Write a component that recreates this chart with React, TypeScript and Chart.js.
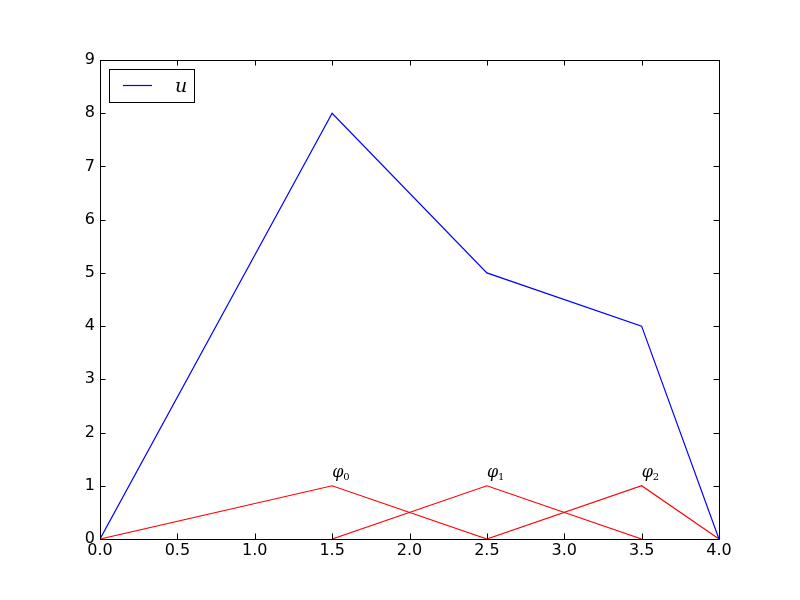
import { useEffect, useRef } from 'react';
import Chart from 'chart.js/auto';

// nodes of the mesh and the values of u at them
const nodes = [0, 1.5, 2.5, 3.5, 4];
const uValues = [0, 8, 5, 4, 0];
// each hat function rises from 0 to 1 and back over three neighbouring nodes
const hatValues = [0, 1, 0];
const hatNames = ['φ0', 'φ1', 'φ2'];
const xTicks = [0, 0.5, 1, 1.5, 2, 2.5, 3, 3.5, 4];
const yTicks = [0, 1, 2, 3, 4, 5, 6, 7, 8, 9];

const tickFont = { family: 'DejaVu Sans', size: 16 };

// frame, inward ticks, φ labels and the legend box, matplotlib style
const decorations = {
  id: 'decorations',
  afterDraw(chart: any) {
    const { ctx, chartArea: a, scales } = chart;
    const x = scales.x;
    const y = scales.y;
    ctx.save();
    ctx.strokeStyle = '#000';
    ctx.lineWidth = 1;
    ctx.strokeRect(Math.round(a.left) + 0.5, Math.round(a.top) + 0.5, Math.round(a.right - a.left), Math.round(a.bottom - a.top));
    ctx.beginPath();
    const tl = 5.5;
    for (const t of xTicks) {
      const px = Math.round(x.getPixelForValue(t)) + 0.5;
      ctx.moveTo(px, a.bottom);
      ctx.lineTo(px, a.bottom - tl);
      ctx.moveTo(px, a.top);
      ctx.lineTo(px, a.top + tl);
    }
    for (const t of yTicks) {
      const py = Math.round(y.getPixelForValue(t)) + 0.5;
      ctx.moveTo(a.left, py);
      ctx.lineTo(a.left + tl, py);
      ctx.moveTo(a.right, py);
      ctx.lineTo(a.right - tl, py);
    }
    ctx.stroke();

    // φ labels just above each peak
    ctx.fillStyle = '#000';
    ctx.textAlign = 'left';
    ctx.textBaseline = 'alphabetic';
    hatNames.forEach((name, i) => {
      const px = x.getPixelForValue(nodes[i + 1]);
      const py = y.getPixelForValue(hatValues[1] + 0.1);
      ctx.font = 'italic 16px "DejaVu Serif"';
      ctx.fillText(name[0], px, py - 3);
      const w = ctx.measureText(name[0]).width;
      ctx.font = '10px "DejaVu Serif"';
      ctx.fillText(name.slice(1), px + w, py);
    });

    // legend
    const lx = a.left + 9;
    const ly = a.top + 9;
    ctx.fillStyle = '#fff';
    ctx.fillRect(lx, ly, 85, 33);
    ctx.strokeStyle = '#000';
    ctx.strokeRect(lx + 0.5, ly + 0.5, 85, 33);
    ctx.strokeStyle = chart.data.datasets[0].borderColor;
    ctx.lineWidth = 1.2;
    ctx.beginPath();
    ctx.moveTo(lx + 14, ly + 16.5);
    ctx.lineTo(lx + 43, ly + 16.5);
    ctx.stroke();
    ctx.fillStyle = '#000';
    ctx.font = 'italic 19px "DejaVu Serif"';
    ctx.textBaseline = 'alphabetic';
    ctx.fillText(chart.data.datasets[0].label, lx + 66, ly + 23);
    ctx.restore();
  },
};

export default function App() {
  const canvas = useRef<HTMLCanvasElement>(null);

  useEffect(() => {
    let chart: Chart<any> | undefined;
    if (canvas.current) {
      const hats = hatNames.map((name, i) => ({
        label: name,
        data: hatValues.map((v, j) => ({ x: nodes[i + j], y: v })),
        borderColor: '#ff0000',
        borderWidth: 1.2,
        pointRadius: 0,
        fill: false,
        tension: 0,
      }));
      chart = new Chart(canvas.current, {
        type: 'line',
        data: {
          datasets: [
            {
              label: 'u',
              data: nodes.map((n, i) => ({ x: n, y: uValues[i] })),
              borderColor: '#0000ff',
              borderWidth: 1.2,
              pointRadius: 0,
              fill: false,
              tension: 0,
            },
            ...hats,
          ],
        },
        options: {
          animation: false,
          responsive: false,
          devicePixelRatio: 1,
          layout: { padding: { top: 60, right: 81, left: 0, bottom: 0 } },
          plugins: {
            legend: { display: false },
            tooltip: { enabled: false },
          },
          scales: {
            x: {
              type: 'linear',
              min: 0,
              max: 4,
              afterFit: (s: any) => {
                s.height = 61;
              },
              afterBuildTicks: (s: any) => {
                s.ticks = xTicks.map((v) => ({ value: v }));
              },
              grid: { display: false, drawTicks: false },
              border: { display: false },
              ticks: {
                padding: 2,
                color: '#000',
                font: tickFont,
                maxRotation: 0,
                autoSkip: false,
                callback: (v: any) => Number(v).toFixed(1),
              },
            },
            y: {
              type: 'linear',
              min: 0,
              max: 9,
              afterFit: (s: any) => {
                s.width = 100;
              },
              afterBuildTicks: (s: any) => {
                s.ticks = yTicks.map((v) => ({ value: v }));
              },
              grid: { display: false, drawTicks: false },
              border: { display: false },
              ticks: {
                padding: 5,
                color: '#000',
                font: tickFont,
                autoSkip: false,
                callback: (v: any) => String(v),
              },
            },
          },
        },
        plugins: [decorations],
      });
    }
    return () => {
      chart?.destroy();
    };
  }, []);

  return (
    <div style={{ position: 'absolute', left: 0, top: 0, width: 800, height: 600, background: '#fff' }}>
      <canvas ref={canvas} width={800} height={600} />
    </div>
  );
}
